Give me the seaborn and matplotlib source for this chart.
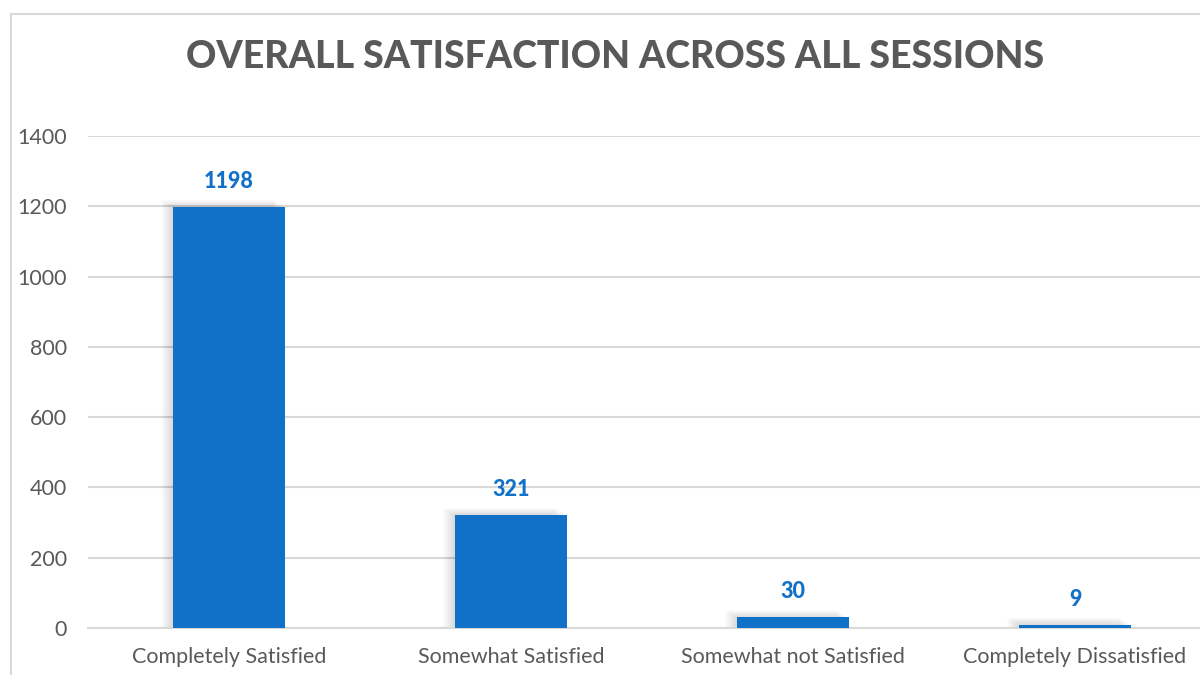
import matplotlib
matplotlib.use("Agg")
import matplotlib.pyplot as plt
import matplotlib.patches as mpatches
import seaborn as sns
import pandas as pd

categories = ["Completely Satisfied", "Somewhat Satisfied",
              "Somewhat not Satisfied", "Completely Dissatisfied"]
counts = [1198, 321, 30, 9]
y_ticks = [0, 200, 400, 600, 800, 1000, 1200, 1400]

df = pd.DataFrame({"category": categories, "count": counts})

sns.set_theme(style="white")
plt.rcParams["font.family"] = ["Lato", "DejaVu Sans"]

W, H = 1200, 675
fig = plt.figure(figsize=(12, 6.75), dpi=100)
fig.patch.set_facecolor("white")

# chart frame (only top and left edges fall inside the canvas)
fig.add_artist(mpatches.Rectangle((11 / W, -0.1), 1.2, 1 - 14 / H + 0.1,
                                  transform=fig.transFigure, fill=False,
                                  edgecolor="#d9d9d9", linewidth=1.5))

left, right = 88 / W, 1216 / W
bottom, top = 1 - 628 / H, 1 - 136 / H
ax = fig.add_axes([left, bottom, right - left, top - bottom])

bar_color = "#1170C8"
sns.barplot(data=df, x="category", y="count", color=bar_color,
            width=0.40, saturation=1, ax=ax, zorder=3,
            linewidth=0, edgecolor=bar_color)

# soft shadow to the left of and above each bar
px_x = 1 / 282.0      # one pixel in category units
px_y = 1400 / 492.0   # one pixel in count units
for p in ax.patches[:len(counts)]:
    x0, w, h = p.get_x(), p.get_width(), p.get_height()
    for i in range(1, 13):
        ax.add_patch(mpatches.Rectangle((x0 - i * px_x, 0), w,
                                        h + i * 0.6 * px_y,
                                        facecolor="black", alpha=0.010,
                                        edgecolor="none", zorder=2))

ax.set_ylim(0, 1400)
ax.set_xlim(-0.5, 3.5)
ax.set_yticks(y_ticks)
ax.set_yticklabels([str(v) for v in y_ticks])
ax.yaxis.grid(True, color="#d9d9d9", linewidth=1.5, zorder=0)
ax.set_axisbelow(True)
for s in ["top", "right", "left"]:
    ax.spines[s].set_visible(False)
ax.spines["bottom"].set_color("#d9d9d9")
ax.spines["bottom"].set_linewidth(1.5)
ax.tick_params(axis="both", length=0, labelsize=15.5, colors="#595959")
ax.tick_params(axis="y", pad=15)
ax.tick_params(axis="x", pad=14)
ax.set_xlabel("")
ax.set_ylabel("")

for i, v in enumerate(counts):
    ax.annotate(str(v), (i, v), xytext=(0, 11), textcoords="offset points",
                ha="center", va="bottom", fontsize=15.5, fontweight="black",
                color=bar_color)

fig.text(615 / W, 1 - 57 / H, "OVERALL SATISFACTION ACROSS ALL SESSIONS",
         ha="center", va="center", fontsize=27, fontweight="black",
         color="#595959")

fig.savefig("out.png", dpi=100, facecolor="white")
